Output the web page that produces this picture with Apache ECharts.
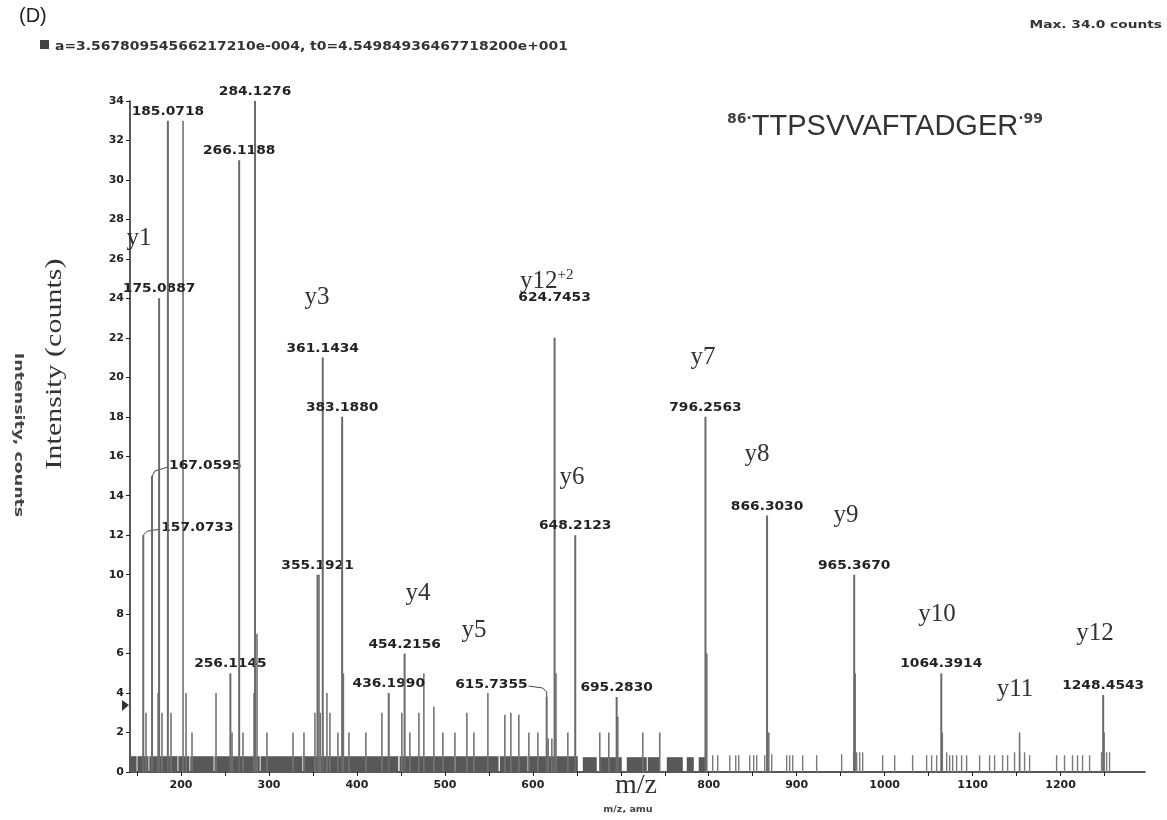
<!DOCTYPE html>
<html><head><meta charset="utf-8">
<script src="https://cdn.jsdelivr.net/npm/echarts@6/dist/echarts.min.js"></script>
<style>html,body{margin:0;padding:0;background:#fff}#c{width:1167px;height:820px}</style>
</head><body><div id="c"></div><script>
// ---------- data ----------
const peakMz = [157.0733, 167.0595, 175.0887, 185.0718, 256.1145, 266.1188, 284.1276, 355.1921, 361.1434, 383.1880, 436.1990, 454.2156, 615.7355, 624.7453, 648.2123, 695.2830, 796.2563, 866.3030, 965.3670, 1064.3914, 1248.4543];
const peakIntensity = [12, 15, 24, 33, 5, 31, 34, 10, 21, 18, 4, 6, 3.8, 22, 12, 3.8, 18, 13, 10, 5, 3.9];
const peakLabels = ['157.0733','167.0595','175.0887','185.0718','256.1145','266.1188','284.1276','355.1921','361.1434','383.1880','436.1990','454.2156','615.7355','624.7453','648.2123','695.2830','796.2563','866.3030','965.3670','1064.3914','1248.4543'];

const minorMz = [160.2, 173.9, 178.4, 188.6, 202.3, 205.7, 212.5, 239.8, 258.0, 270.5, 283.0, 286.4, 297.7, 327.3, 339.8, 352.3, 356.9, 358.3, 365.9, 369.3, 378.4, 384.6, 390.9, 410.2, 428.4, 451.1, 460.2, 470.5, 476.1, 487.5, 497.7, 511.4, 525.0, 533.0, 548.9, 568.2, 575.0, 584.1, 595.5, 605.7, 617.5, 621.6, 626.3, 639.8, 676.1, 686.4, 696.6, 725.0, 744.3, 797.8, 868.3, 966.5, 1065.5, 1153.4, 1249.5];
const minorIntensity = [3, 4, 3, 3, 33, 4, 2, 4, 2, 2, 4, 7, 2, 2, 2, 3, 10, 3, 4, 3, 2, 5, 2, 2, 3, 3, 2, 3, 5, 3.3, 2, 2, 3, 2, 4, 2.9, 3, 2.9, 2, 2, 1.7, 1.7, 5, 2, 2, 2, 2.8, 2, 2, 6, 2, 5, 2, 2, 2];

const noiseStart = [142, 150.5, 164, 197, 210.5, 238, 290.5, 339, 448.5, 512, 562.5, 595, 656.8, 676.1, 706.8, 730.7, 752.3, 775, 788.6];
const noiseEnd   = [149.5, 163, 196, 209.5, 237, 289.5, 338, 447, 511, 561, 594, 651.1, 672.7, 701.1, 729.5, 744.3, 770.5, 783, 796.6];
const noiseLevel = [0.8, 0.8, 0.8, 0.8, 0.8, 0.8, 0.8, 0.8, 0.8, 0.8, 0.8, 0.8, 0.75, 0.75, 0.75, 0.75, 0.75, 0.75, 0.75];

const rightNoiseMz = [804.5, 810.2, 823.9, 830.7, 834.1, 846.6, 851.1, 854.5, 863.6, 871.6, 888.6, 892.0, 895.5, 906.8, 922.7, 951.1, 964.8, 968.2, 971.6, 975.0, 997.7, 1011.4, 1031.8, 1047.7, 1053.4, 1059.1, 1064.8, 1070.5, 1073.9, 1077.3, 1081.8, 1087.5, 1093.2, 1108.0, 1119.3, 1125.0, 1134.1, 1139.8, 1147.7, 1153.4, 1159.1, 1164.8, 1195.5, 1204.5, 1213.6, 1219.3, 1225.0, 1233.0, 1246.6, 1252.3, 1255.7];
const rightNoiseIntensity = [0.85, 0.85, 0.85, 0.85, 0.85, 0.85, 0.85, 0.85, 0.85, 0.9, 0.85, 0.85, 0.85, 0.85, 0.85, 0.9, 1, 1, 1, 1, 0.85, 0.85, 0.85, 0.85, 0.85, 0.85, 1, 1, 0.85, 0.85, 0.85, 0.85, 0.85, 0.85, 0.85, 0.85, 0.85, 0.85, 1, 1, 1, 0.85, 0.85, 0.85, 0.85, 0.85, 0.85, 0.85, 1, 1, 1];

const xLabelValues = [200, 300, 400, 500, 600, 800, 900, 1000, 1100, 1200];
const xTickValues = [150, 200, 250, 300, 350, 400, 450, 500, 550, 600, 650, 700, 750, 800, 850, 900, 950, 1000, 1050, 1100, 1150, 1200, 1250];

const ionNames = ['y1','y3','y4','y5','y6','y7','y8','y9','y10','y11','y12'];
const peptide = 'TTPSVVAFTADGER';

// ---------- layout (pixels) ----------
const ionPos = {y1:[139,238], y3:[317,297], y4:[418,593], y5:[474,630], y6:[572,477], y7:[703,357], y8:[757,454], y9:[846,515], y10:[937,614], y11:[1015,689], y12:[1095,633]};
const labelLayout = {
  '157.0733': {leader:[[0,0],[4,-4],[17,-6]], dx:18, dy:-7, align:'left', va:'middle'},
  '167.0595': {leader:[[0,0],[3,-5],[16,-9]], dx:17, dy:-10, align:'left', va:'middle'},
  '615.7355': {leader:[[0,0],[0,-5],[-4,-9],[-18,-11]], dx:-19, dy:-12, align:'right', va:'middle'},
  '624.7453': {dx:0, dy:-34}
};

const labelFont = 'bold 12px "DejaVu Sans"';

const stick = (color, width) => (params, api) => {
  const v = api.value(0), h = api.value(1);
  const p0 = api.coord([v, 0]), p1 = api.coord([v, h]);
  return {type:'line', shape:{x1:p0[0], y1:p0[1], x2:p1[0], y2:p1[1]}, style:{stroke:color, lineWidth:width}};
};

const chart = echarts.init(document.getElementById('c'), null, {renderer:'canvas'});

const graphics = [
  {type:'text', left:19, top:6, style:{text:'(D)', font:'20px "Liberation Sans"', fill:'#222'}},
  {type:'rect', shape:{x:40, y:40, width:9, height:9}, style:{fill:'#444'}},
  {type:'text', x:55, y:47, scaleX:1.16, style:{text:'a=3.56780954566217210e-004, t0=4.54984936467718200e+001', font:'bold 12px "DejaVu Sans"', fill:'#333', verticalAlign:'middle'}},
  {type:'text', x:1162, y:25, scaleX:1.25, style:{text:'Max. 34.0 counts', font:'bold 11px "DejaVu Sans"', fill:'#333', align:'right', verticalAlign:'middle'}},
  {type:'text', x:727, y:127, style:{
    text:'{s|86·}{m|' + peptide + '}{s|·99}',
    verticalAlign:'middle',
    rich:{s:{font:'bold 14px "DejaVu Sans"', fill:'#444', verticalAlign:'top', padding:[0,0,14,0]}, m:{font:'29px "Liberation Sans"', fill:'#333'}}
  }},
  {type:'text', x:55, y:364, rotation:Math.PI/2, scaleX:1.25, style:{text:'Intensity (counts)', font:'24px "Liberation Serif"', fill:'#333', align:'center', verticalAlign:'middle'}},
  {type:'text', x:18, y:435, rotation:-Math.PI/2, scaleX:1.45, style:{text:'Intensity, counts', font:'bold 12px "DejaVu Sans"', fill:'#444', align:'center', verticalAlign:'middle'}},
  {type:'text', x:636, y:786, style:{text:'m/z', font:'28px "Liberation Serif"', fill:'#333', align:'center', verticalAlign:'middle'}},
  {type:'text', x:628, y:810, scaleX:1.2, style:{text:'m/z, amu', font:'bold 8px "DejaVu Sans"', fill:'#444', align:'center', verticalAlign:'middle'}},
  {type:'polygon', shape:{points:[[122,700],[129,705],[122,711]]}, style:{fill:'#333'}}
];
ionNames.forEach(n => {
  const p = ionPos[n];
  graphics.push({type:'text', x:p[0], y:p[1], style:{text:n, font:'25px "Liberation Serif"', fill:'#333', align:'center', verticalAlign:'middle'}});
});
graphics.push({type:'text', x:520, y:281, style:{
  text:'{a|y12}{b|+2}', verticalAlign:'middle',
  rich:{a:{font:'25px "Liberation Serif"', fill:'#333'}, b:{font:'15px "Liberation Serif"', fill:'#333', verticalAlign:'top', padding:[0,0,12,0]}}
}});

chart.setOption({
  animation:false,
  backgroundColor:'#fff',
  grid:{left:130, right:22, top:101, bottom:48, containLabel:false},
  xAxis:{
    type:'value', min:142, max:1296,
    axisLine:{show:true, lineStyle:{color:'#222', width:1.5}},
    axisTick:{show:true, length:4, lineStyle:{color:'#222'}, customValues:xTickValues},
    axisLabel:{color:'#222', fontSize:11, fontWeight:'bold', fontFamily:'DejaVu Sans', margin:8, customValues:xLabelValues, formatter:v=>String(v)},
    splitLine:{show:false}
  },
  yAxis:{
    type:'value', min:0, max:34, interval:2,
    axisLine:{show:true, lineStyle:{color:'#222', width:1.5}},
    axisTick:{show:true, length:4, lineStyle:{color:'#222'}},
    axisLabel:{color:'#222', fontSize:11, fontWeight:'bold', fontFamily:'DejaVu Sans', margin:6},
    splitLine:{show:false}
  },
  graphic:graphics,
  series:[
    {type:'custom', name:'noise band', clip:true, encode:{x:[0,1], y:2},
     data:noiseStart.map((s,i)=>[s, noiseEnd[i], noiseLevel[i]]),
     renderItem:(params, api)=>{
       const p0 = api.coord([api.value(0), api.value(2)]);
       const p1 = api.coord([api.value(1), 0]);
       return {type:'rect', shape:{x:p0[0], y:p0[1], width:p1[0]-p0[0], height:p1[1]-p0[1]}, style:{fill:'#585858'}};
     }},
    {type:'custom', name:'noise lines', clip:true, encode:{x:0, y:1},
     data:rightNoiseMz.map((m,i)=>[m, rightNoiseIntensity[i]]),
     renderItem:stick('#7a7a7a', 1.4)},
    {type:'custom', name:'minor peaks', clip:true, encode:{x:0, y:1},
     data:minorMz.map((m,i)=>[m, minorIntensity[i]]),
     renderItem:stick('#747474', 1.6)},
    {type:'custom', name:'labelled peaks', clip:false, encode:{x:0, y:1},
     data:peakMz.map((m,i)=>[m, peakIntensity[i], i]),
     renderItem:(params, api)=>{
       const v = api.value(0), h = api.value(1), idx = api.value(2);
       const lbl = peakLabels[idx];
       const p0 = api.coord([v, 0]), p1 = api.coord([v, h]);
       const L = labelLayout[lbl] || {dx:0, dy:-3};
       const children = [{type:'line', shape:{x1:p0[0], y1:p0[1], x2:p1[0], y2:p1[1]}, style:{stroke:'#6a6a6a', lineWidth:2}}];
       if (L.leader) {
         children.push({type:'polyline', shape:{points:L.leader.map(q=>[p1[0]+q[0], p1[1]+q[1]])}, style:{stroke:'#444', lineWidth:1, fill:null}});
       }
       children.push({type:'text', x:p1[0]+L.dx, y:p1[1]+L.dy, scaleX:1.15,
         style:{text:lbl, x:0, y:0, align:L.align||'center', verticalAlign:L.va||'bottom', font:labelFont, fill:'#222'}});
       return {type:'group', children};
     }}
  ]
});
</script></body></html>
